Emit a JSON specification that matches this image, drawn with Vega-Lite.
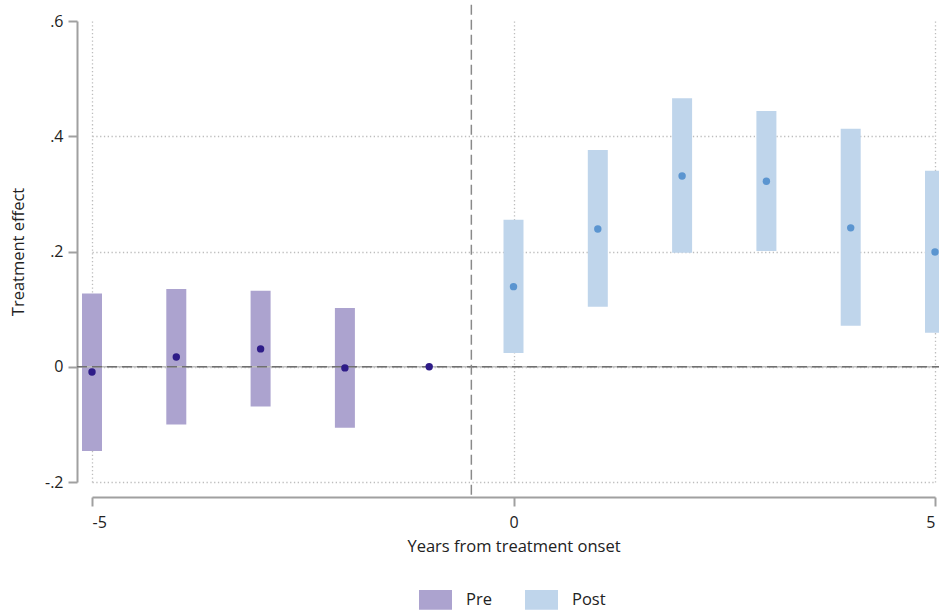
{
  "$schema": "https://vega.github.io/schema/vega-lite/v6.json",
  "width": 843,
  "height": 461,
  "autosize": "none",
  "padding": {"left": 92, "top": 21, "right": 4, "bottom": 128},
  "config": {
    "font": "Open Sans",
    "view": {"stroke": null},
    "axis": {
      "labelFont": "Open Sans", "titleFont": "Open Sans",
      "labelFontSize": 16, "titleFontSize": 16.5,
      "labelColor": "#222", "titleColor": "#222", "titleFontWeight": "normal",
      "domainColor": "#a0a0a0", "domainWidth": 2, "tickColor": "#a0a0a0", "tickWidth": 2, "tickSize": 9,
      "gridColor": "#bdbdbd", "gridDash": [1.3, 2.5], "gridWidth": 1.3
    },
    "legend": {"labelFont": "Open Sans", "labelFontSize": 16.5, "labelColor": "#222"}
  },
  "data": {"values": [
    {"t": -5, "b": -0.009, "lo": -0.146, "hi": 0.127, "period": "Pre"},
    {"t": -4, "b": 0.017, "lo": -0.100, "hi": 0.135, "period": "Pre"},
    {"t": -3, "b": 0.031, "lo": -0.069, "hi": 0.132, "period": "Pre"},
    {"t": -2, "b": -0.002, "lo": -0.106, "hi": 0.102, "period": "Pre"},
    {"t": -1, "b": 0.0, "lo": 0.0, "hi": 0.0, "period": "Pre"},
    {"t": 0, "b": 0.139, "lo": 0.024, "hi": 0.255, "period": "Post"},
    {"t": 1, "b": 0.239, "lo": 0.104, "hi": 0.376, "period": "Post"},
    {"t": 2, "b": 0.331, "lo": 0.198, "hi": 0.466, "period": "Post"},
    {"t": 3, "b": 0.322, "lo": 0.201, "hi": 0.444, "period": "Post"},
    {"t": 4, "b": 0.241, "lo": 0.071, "hi": 0.413, "period": "Post"},
    {"t": 5, "b": 0.199, "lo": 0.059, "hi": 0.340, "period": "Post"}
  ]},
  "layer": [
    {
      "mark": {"type": "bar", "width": 20},
      "encoding": {
        "x": {"field": "t", "type": "quantitative",
          "scale": {"domain": [-5, 5], "nice": false, "zero": false, "padding": 0},
          "axis": {"values": [-5, 0, 5], "title": "Years from treatment onset", "offset": 15,
            "labelPadding": 8, "titlePadding": 8, "grid": true,
            "labelExpr": "datum.value < 0 ? '-' + abs(datum.value) : '' + datum.value"}},
        "y": {"field": "lo", "type": "quantitative",
          "scale": {"domain": [-0.2, 0.6], "nice": false, "zero": false},
          "axis": {"values": [-0.2, 0, 0.2, 0.4, 0.6], "title": "Treatment effect", "offset": 15,
            "labelPadding": 5, "titlePadding": 18, "grid": true,
            "gridOpacity": {"condition": {"test": "datum.value > 0.59", "value": 0}, "value": 1},
            "labelExpr": "datum.value == 0 ? '0' : (datum.value < 0 ? '-' : '') + replace(format(abs(datum.value), '.1f'), '0.', '.')"}},
        "y2": {"field": "hi"},
        "color": {"field": "period", "type": "nominal",
          "scale": {"domain": ["Pre", "Post"], "range": ["#aca3cf", "#bfd5eb"]},
          "legend": {"title": null, "orient": "none", "legendX": 327, "legendY": 562,
            "direction": "horizontal", "symbolType": "M-1,-0.6L1,-0.6L1,0.6L-1,0.6Z",
            "symbolSize": 1089, "symbolStrokeWidth": 0, "labelOffset": 14, "columnPadding": 33,
            "symbolOpacity": 1}}
      }
    },
    {
      "data": {"values": [{}]},
      "mark": {"type": "rule", "color": "#bdbdbd", "strokeWidth": 1.5, "clip": false},
      "encoding": {"y": {"datum": 0}, "x": {"datum": -5.178}, "x2": {"datum": 5.05}}
    },
    {
      "data": {"values": [{}]},
      "mark": {"type": "rule", "color": "#707070", "strokeWidth": 1.5, "strokeDash": [10, 5], "clip": false},
      "encoding": {"y": {"datum": 0}, "x": {"datum": -5.178}, "x2": {"datum": 5.05}}
    },
    {
      "data": {"values": [{}]},
      "mark": {"type": "rule", "color": "#8a8a8a", "strokeWidth": 1.5, "strokeDash": [10, 5], "clip": false},
      "encoding": {"x": {"datum": -0.5}, "y": {"datum": 0.628}, "y2": {"datum": -0.226}}
    },
    {
      "mark": {"type": "circle", "size": 55, "opacity": 1},
      "encoding": {
        "x": {"field": "t", "type": "quantitative"},
        "y": {"field": "b", "type": "quantitative"},
        "color": {"field": "period", "type": "nominal",
          "scale": {"domain": ["Pre", "Post"], "range": ["#2e1c88", "#5b95d0"]},
          "legend": null}
      }
    }
  ],
  "resolve": {"scale": {"color": "independent"}}
}
